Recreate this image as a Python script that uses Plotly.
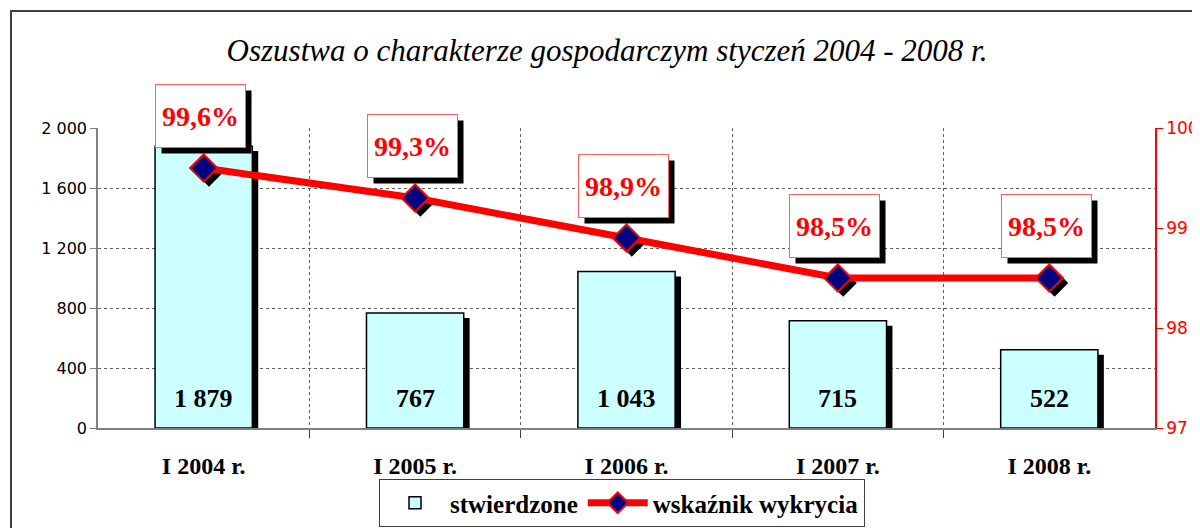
import plotly.graph_objects as go

categories = ["I 2004 r.", "I 2005 r.", "I 2006 r.", "I 2007 r.", "I 2008 r."]
stwierdzone = [1879, 767, 1043, 715, 522]
wskaznik = [99.6, 99.3, 98.9, 98.5, 98.5]
left_ticks = [0, 400, 800, 1200, 1600, 2000]
right_ticks = [97, 98, 99, 100]

SERIF = "Liberation Serif"
SANS = "DejaVu Sans"

xs = list(range(len(categories)))
bar_w = 0.46

W, H = 1192, 520
L, R, T, B = 90, 45, 120, 100
PW, PH = W - L - R, H - T - B

fig = go.Figure()

# bar shadows
fig.add_trace(go.Bar(
    x=xs, y=[v - 33 for v in stwierdzone], width=bar_w, offset=-bar_w / 2 + 0.028,
    marker=dict(color="black", line=dict(width=0)), showlegend=False, hoverinfo="skip",
))
# bars
fig.add_trace(go.Bar(
    x=xs, y=stwierdzone, width=bar_w, offset=-bar_w / 2, name="stwierdzone",
    marker=dict(color="#CCFFFF", line=dict(color="black", width=1.5)),
))
# marker shadows
fig.add_trace(go.Scatter(
    x=[i + 0.025 for i in xs], y=[p - 0.05 for p in wskaznik], yaxis="y2", mode="markers",
    marker=dict(symbol="diamond", size=21, color="black"), showlegend=False, hoverinfo="skip",
))
# line
fig.add_trace(go.Scatter(
    x=xs, y=wskaznik, yaxis="y2", mode="lines+markers", name="wskaźnik wykrycia",
    line=dict(color="#FF0000", width=7),
    marker=dict(symbol="diamond", size=21, color="#000080", line=dict(color="#FF0000", width=2)),
))

annotations = []
for i, v in enumerate(stwierdzone):
    annotations.append(dict(
        x=i, y=0, xref="x", yref="y", text=f"{v:,}".replace(",", " "),
        showarrow=False, yshift=30, font=dict(family=SERIF, size=26, color="black", weight="bold"),
    ))
for i, p in enumerate(wskaznik):
    txt = f"{p:.1f}%".replace(".", ",")
    annotations.append(dict(
        x=i, y=p, xref="x", yref="y2", text=" ", showarrow=False,
        xshift=-3 + 6, yshift=52 - 6, width=87, height=60, bgcolor="black",
        font=dict(family=SERIF, size=28, color="black", weight="bold"),
    ))
    annotations.append(dict(
        x=i, y=p, xref="x", yref="y2", text=txt, showarrow=False,
        xshift=-3, yshift=52, width=87, height=60, bgcolor="white",
        bordercolor="#FF6060", borderwidth=1,
        font=dict(family=SERIF, size=28, color="#FF0000", weight="bold"),
    ))

fig.update_layout(
    width=W, height=H,
    margin=dict(l=L, r=R, t=T, b=B, autoexpand=False),
    paper_bgcolor="white", plot_bgcolor="white",
    barmode="overlay",
    title=dict(
        text="Oszustwa o charakterze gospodarczym styczeń 2004 - 2008 r.",
        x=599 / W, xanchor="center", y=1 - 42 / H, yanchor="middle", yref="container",
        font=dict(family=SERIF, size=31, color="black", style="italic"),
    ),
    xaxis=dict(
        range=[-0.5, len(categories) - 0.5], tickvals=xs, ticktext=categories,
        showgrid=False, ticks="", showline=True, linecolor="#808080", linewidth=1.5,
        tickfont=dict(family=SERIF, size=24, color="black", weight="bold"),
        ticklabelstandoff=15, zeroline=False, automargin=False,
        minor=dict(tickvals=[i + 0.5 for i in xs[:-1]], showgrid=True, gridcolor="#606060",
                   griddash="dot", gridwidth=1, ticks="outside", ticklen=8, tickcolor="#404040"),
    ),
    yaxis=dict(
        range=[0, 2000], tickvals=left_ticks,
        ticktext=[f"{t:,}".replace(",", " ") for t in left_ticks],
        showgrid=True, gridcolor="#606060", griddash="dot", gridwidth=1,
        showline=True, linecolor="#808080", linewidth=1.5,
        ticks="outside", ticklen=6, tickcolor="#808080", automargin=False,
        tickfont=dict(family=SANS, size=16, color="black"), zeroline=False,
    ),
    yaxis2=dict(
        range=[97, 100], tickvals=right_ticks, overlaying="y", side="right",
        showgrid=False, showline=True, linecolor="#FF0000", linewidth=1.5,
        ticks="outside", ticklen=6, tickcolor="#FF0000", automargin=False,
        tickfont=dict(family=SANS, size=17, color="#FF0000"), zeroline=False,
    ),
    legend=dict(
        orientation="h", x=(614 - L) / PW, xanchor="center", y=(420 - 495) / PH, yanchor="middle",
        bordercolor="#404040", borderwidth=1, bgcolor="white",
        font=dict(family=SERIF, size=25, color="black", weight="bold"),
        itemwidth=60, traceorder="normal",
    ),
    annotations=annotations,
    shapes=[dict(
        type="rect", xref="paper", yref="paper",
        x0=(3 - L) / PW, x1=(W + 20 - L) / PW,
        y0=(T + PH - (H + 30)) / PH, y1=(T + PH - 3) / PH,
        line=dict(color="#404040", width=2), fillcolor="rgba(0,0,0,0)", layer="below",
    )],
    showlegend=True,
)

fig.write_html("out.html")
